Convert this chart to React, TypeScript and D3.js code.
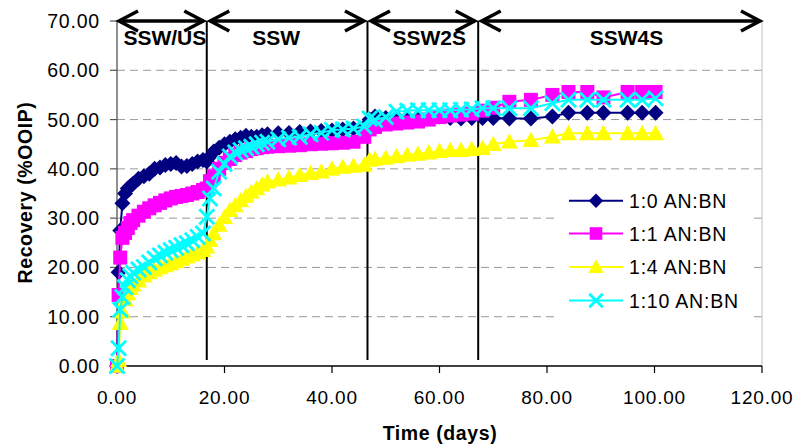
import React from 'react';
import * as d3 from 'd3';

const times = [0, 0.3, 0.6, 1, 1.5, 2, 2.5, 3, 4, 5, 6, 7, 8, 9, 10, 11, 12, 13, 14, 15, 16, 16.7, 17.3, 18, 19, 20, 21, 22, 23, 24, 25, 26, 27, 28, 30, 32, 34, 36, 38, 40, 42, 44, 46, 47, 48, 50, 52, 54, 56, 58, 60, 62, 64, 66, 68, 70, 73, 77, 81, 84, 87.5, 90.5, 95, 97.7, 100.2];

const ratio1to0 = [0, 19, 27.5, 33, 35, 36, 36.5, 37, 38, 38.5, 39, 40, 40.3, 40.8, 41, 41.2, 40.5, 40.6, 41, 41.5, 41.8, 41.5, 42.5, 43.5, 44.3, 45, 45.5, 46, 46.3, 46.7, 46.5, 46.5, 46.8, 47, 47.2, 47.3, 47.5, 47.6, 47.7, 47.8, 48, 48.2, 48.5, 50, 50.6, 50.3, 50.4, 50.2, 50.4, 50.5, 50.6, 50.3, 50.2, 50.3, 50.3, 50.3, 50.2, 50.2, 50.6, 51.4, 51.4, 51.4, 51.4, 51.4, 51.4];

const ratio1to1 = [0, 14.4, 22, 26, 27, 28, 29, 29.6, 30.5, 31.3, 32, 32.6, 33.1, 33.6, 34, 34.3, 34.5, 34.7, 35, 35.3, 35.7, 36, 37.5, 38.5, 40, 41.2, 42, 42.8, 43.3, 43.6, 44, 44.2, 44.4, 44.5, 44.6, 44.7, 44.8, 45, 45.1, 45.2, 45.3, 45.5, 46.5, 48, 48.5, 49, 49.2, 49.4, 49.6, 50, 50.5, 50.8, 51, 51.2, 51.8, 52.4, 53.6, 54, 55, 55.6, 55.6, 54.5, 55.6, 55.6, 55.6];

const ratio1to4 = [0, 1.2, 8.7, 11, 13.5, 14.7, 15.8, 16.5, 17.3, 18.3, 19, 19.5, 20, 20.4, 20.8, 21.2, 21.7, 22.2, 22.6, 23, 23.5, 24.2, 25.5, 26.9, 28.6, 30.2, 31.6, 32.6, 33.6, 34.5, 35.3, 36, 36.8, 37.4, 37.8, 38.2, 38.7, 39.1, 39.4, 40, 40.4, 40.6, 40.8, 41.8, 42, 42.2, 42.5, 42.8, 43, 43.3, 43.6, 43.8, 43.8, 44, 44.2, 45, 45.5, 45.8, 46.5, 47.2, 47.2, 47.2, 47.2, 47.2, 47.2];

const ratio1to10 = [0, 3.6, 11.4, 14, 16, 17.4, 18.2, 18.9, 19.6, 20.1, 21, 21.8, 22.4, 23, 23.5, 24, 24.5, 24.9, 25.5, 26.2, 26.9, 30.3, 34, 36, 39.4, 41, 42.5, 43.3, 43.8, 44.2, 44.5, 45, 45.3, 45.5, 46, 46.3, 46.5, 47, 47.3, 47.9, 48, 48.2, 48.6, 50.2, 49.9, 50.5, 51.6, 51.8, 51.9, 51.9, 51.9, 51.9, 52, 52.1, 52.3, 52.3, 52.3, 52.3, 53.3, 54, 54, 54, 54, 54, 54.3];

const seriesNames = ['1:0 AN:BN', '1:1 AN:BN', '1:4 AN:BN', '1:10 AN:BN'];
const seriesColors = ['#000080', '#FF00FF', '#FFFF00', '#00FFFF'];
const seriesMarkers = ['diamond', 'square', 'triangle', 'cross'];
const seriesValues = [ratio1to0, ratio1to1, ratio1to4, ratio1to10];

const xTicks = [0, 20, 40, 60, 80, 100, 120];
const yTicks = [0, 10, 20, 30, 40, 50, 60, 70];

const stageBounds = [0, 16.7, 46.6, 67.2, 120];
const stageNames = ['SSW/US', 'SSW', 'SSW2S', 'SSW4S'];
const stageLabelAt = [8.9, 29.6, 58.1, 94.8];

const W = 796;
const H = 446;
const FONT = '"Liberation Sans", Arial, Helvetica, sans-serif';

function Marker({ type, x, y, color, s = 1 }: { type: string; x: number; y: number; color: string; s?: number }) {
  if (type === 'diamond') {
    const r = 8 * s;
    return <path d={`M${x},${y - r}L${x + r},${y}L${x},${y + r}L${x - r},${y}Z`} fill={color} />;
  }
  if (type === 'square') {
    const r = 7 * s;
    return <rect x={x - r} y={y - r} width={2 * r} height={2 * r} fill={color} />;
  }
  if (type === 'triangle') {
    const r = 8.5 * s;
    return <path d={`M${x},${y - r}L${x + r},${y + r * 0.8}L${x - r},${y + r * 0.8}Z`} fill={color} />;
  }
  const r = 7.5 * s;
  return (
    <g stroke={color} strokeWidth={2.8}>
      <line x1={x - r} y1={y - r} x2={x + r} y2={y + r} />
      <line x1={x - r} y1={y + r} x2={x + r} y2={y - r} />
    </g>
  );
}

export default function App() {
  const x = d3.scaleLinear().domain([0, 120]).range([117, 762]);
  const y = d3.scaleLinear().domain([0, 70]).range([366, 21]);

  const line = d3
    .line<[number, number]>()
    .x((d) => x(d[0]))
    .y((d) => y(d[1]));

  const arrowY = y(70);

  const legendX0 = 569;
  const legendX1 = 623;
  const legendRows = [200.7, 233.5, 267, 300.5];

  return (
    <svg
      width={W}
      height={H}
      viewBox={`0 0 ${W} ${H}`}
      style={{ position: 'absolute', left: 0, top: 0, background: '#fff' }}
      fontFamily={FONT}
    >
      <rect x={0} y={0} width={W} height={H} fill="#fff" />

      {/* gridlines */}
      {yTicks.slice(1, -1).map((t) => (
        <line
          key={'g' + t}
          x1={x(0)}
          x2={x(120)}
          y1={y(t)}
          y2={y(t)}
          stroke="#999"
          strokeWidth={1}
          strokeDasharray="8,5"
        />
      ))}

      {/* plot frame */}
      <line x1={x(120)} x2={x(120)} y1={y(70)} y2={y(0)} stroke="#c0c0c0" strokeWidth={1} />
      <line x1={x(0)} x2={x(120)} y1={y(70)} y2={y(70)} stroke="#c0c0c0" strokeWidth={1} />

      {/* axes */}
      <line x1={x(0)} x2={x(0)} y1={y(70)} y2={y(0)} stroke="#555" strokeWidth={1.3} />
      <line x1={x(0)} x2={x(120)} y1={y(0)} y2={y(0)} stroke="#000" strokeWidth={1.3} />
      {yTicks.map((t) => (
        <g key={'yt' + t}>
          <line x1={x(0) - 7} x2={x(0)} y1={y(t)} y2={y(t)} stroke="#555" strokeWidth={1.2} />
          <text
            x={100}
            y={y(t)}
            dy="0.36em"
            textAnchor="end"
            fontSize={19.5}
            letterSpacing={0.8}
            fill="#000"
          >
            {t.toFixed(2)}
          </text>
        </g>
      ))}
      {xTicks.map((t) => (
        <g key={'xt' + t}>
          <line x1={x(t)} x2={x(t)} y1={y(0)} y2={y(0) + 7} stroke="#000" strokeWidth={1.2} />
          <text
            x={x(t)}
            y={397}
            dy="0.36em"
            textAnchor="middle"
            fontSize={19}
            letterSpacing={0.8}
            fill="#000"
          >
            {t.toFixed(2)}
          </text>
        </g>
      ))}

      {/* axis titles */}
      <text
        x={440}
        y={440}
        textAnchor="middle"
        fontSize={19.5}
        fontWeight="bold"
        letterSpacing={0.6}
      >
        Time (days)
      </text>
      <text
        transform={`translate(32, ${(y(0) + y(70)) / 2 - 1}) rotate(-90)`}
        textAnchor="middle"
        fontSize={19.5}
        fontWeight="bold"
        letterSpacing={0.6}
      >
        Recovery (%OOIP)
      </text>

      {/* stage separators */}
      {stageBounds.slice(1, -1).map((b) => (
        <line key={'v' + b} x1={x(b)} x2={x(b)} y1={y(70)} y2={y(1.2)} stroke="#000" strokeWidth={2} />
      ))}

      {/* series */}
      {seriesValues.map((vals, si) => {
        const pts: [number, number][] = times.map((t, i) => [t, vals[i]]);
        return (
          <g key={'s' + si}>
            <path d={line(pts) || ''} fill="none" stroke={seriesColors[si]} strokeWidth={2} />
            {pts.map((p, i) => (
              <Marker key={i} type={seriesMarkers[si]} x={x(p[0])} y={y(p[1])} color={seriesColors[si]} />
            ))}
          </g>
        );
      })}

      {/* stage arrows */}
      {stageNames.map((name, i) => {
        const a = i === 0 ? x(stageBounds[i]) + 2 : x(stageBounds[i]) + 3.5;
        const b = i === stageNames.length - 1 ? x(stageBounds[i + 1]) - 2 : x(stageBounds[i + 1]) - 3.5;
        return (
          <g key={'a' + i} stroke="#000" strokeWidth={3.5} fill="none" strokeLinejoin="miter">
            <line x1={a} x2={b} y1={arrowY} y2={arrowY} />
            <polyline points={`${a + 19},${arrowY - 10} ${a},${arrowY} ${a + 19},${arrowY + 10}`} />
            <polyline points={`${b - 19},${arrowY - 10} ${b},${arrowY} ${b - 19},${arrowY + 10}`} />
          </g>
        );
      })}
      {stageNames.map((name, i) => (
        <text
          key={'sl' + i}
          x={x(stageLabelAt[i])}
          y={45}
          textAnchor="middle"
          fontSize={21}
          fontWeight="bold"
          fill="#000"
        >
          {name}
        </text>
      ))}

      {/* legend */}
      <rect x={556} y={183} width={196} height={136} fill="#fff" />
      {seriesNames.map((name, i) => (
        <g key={'l' + i}>
          <line
            x1={legendX0}
            x2={legendX1}
            y1={legendRows[i]}
            y2={legendRows[i]}
            stroke={seriesColors[i]}
            strokeWidth={2}
          />
          <Marker type={seriesMarkers[i]} x={(legendX0 + legendX1) / 2} y={legendRows[i]} color={seriesColors[i]} s={0.9} />
          <text x={629} y={legendRows[i]} dy="0.36em" fontSize={19.5} letterSpacing={0.8} fill="#000">
            {name}
          </text>
        </g>
      ))}
    </svg>
  );
}
